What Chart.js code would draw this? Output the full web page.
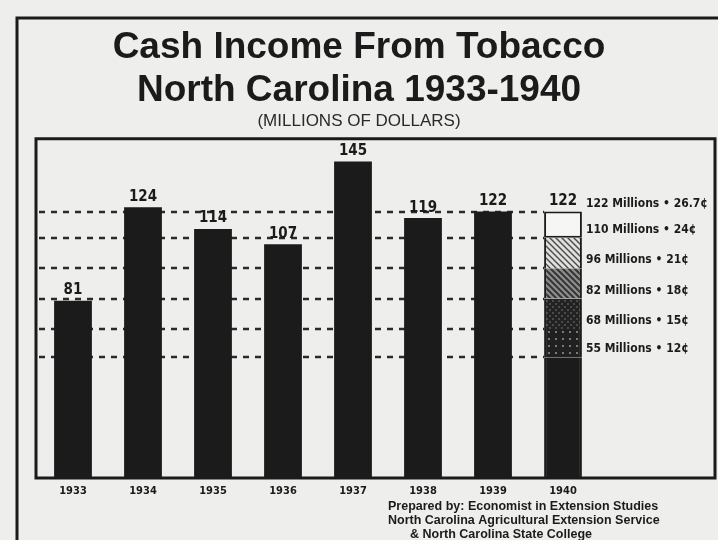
<!DOCTYPE html>
<html>
<head>
<meta charset="utf-8">
<script src="https://cdn.jsdelivr.net/npm/chart.js@4.4.1/dist/chart.umd.min.js"></script>
<style>
  html, body { margin: 0; padding: 0; background: #eeeeec; }
  #wrap { width: 718px; height: 540px; }
</style>
</head>
<body>
<div id="wrap"><canvas id="tobaccoChart" width="718" height="540"></canvas></div>
<script>
// Data (millions of dollars)
const years = ['1933', '1934', '1935', '1936', '1937', '1938', '1939', '1940'];
const cashIncome = [81, 124, 114, 107, 145, 119, 122, null];
const total1940 = 122;
// 1940 column split by price levels (cumulative millions) and the price per pound
const levels1940 = [55, 68, 82, 96, 110, 122];
const prices1940 = ['12¢', '15¢', '18¢', '21¢', '24¢', '26.7¢'];

const titleLines = ['Cash Income From Tobacco', 'North Carolina 1933-1940'];
const subtitleText = '(MILLIONS OF DOLLARS)';
const footerLines = [
    'Prepared by: Economist in Extension Studies',
    'North Carolina Agricultural Extension Service',
    '& North Carolina State College'
];

const ink = '#1b1b1b';
const paper = '#eeeeec';
const narrow = '"Liberation Sans Narrow", "DejaVu Sans Condensed", sans-serif';
const sans = '"Liberation Sans", Arial, sans-serif';

// Small fill patterns for the 1940 column
function makePattern(kind) {
    const c = document.createElement('canvas');
    const g = c.getContext('2d');
    const s = kind === 'dots' ? 7 : 6;
    c.width = s; c.height = s;
    if (kind === 'dots') {
        g.fillStyle = '#202020'; g.fillRect(0, 0, s, s);
        g.fillStyle = '#7a7a7a'; g.fillRect(2, 2, 2, 2);
    } else if (kind === 'cross') {
        g.fillStyle = '#222'; g.fillRect(0, 0, s, s);
        g.fillStyle = '#4a4a4a';
        g.fillRect(0, 0, 2, 2); g.fillRect(3, 3, 2, 2);
    } else if (kind === 'hatchDark') {
        g.fillStyle = '#8e8e8e'; g.fillRect(0, 0, s, s);
        g.strokeStyle = '#353535'; g.lineWidth = 2;
        g.beginPath();
        g.moveTo(-1, -1); g.lineTo(s + 1, s + 1);
        g.moveTo(-1, s - 1); g.lineTo(1, s + 1);
        g.moveTo(s - 1, -1); g.lineTo(s + 1, 1);
        g.stroke();
    } else {
        g.fillStyle = '#e0e0de'; g.fillRect(0, 0, s, s);
        g.strokeStyle = '#4a4a4a'; g.lineWidth = 1.4;
        g.beginPath();
        g.moveTo(-1, -1); g.lineTo(s + 1, s + 1);
        g.moveTo(-1, s - 1); g.lineTo(1, s + 1);
        g.moveTo(s - 1, -1); g.lineTo(s + 1, 1);
        g.stroke();
    }
    return g.createPattern(c, 'repeat');
}

const segmentFills = [ink, makePattern('dots'), makePattern('cross'), makePattern('hatchDark'), makePattern('hatchLight'), '#f6f6f4'];

const datasets = [{
    label: 'Cash income',
    data: cashIncome,
    backgroundColor: ink,
    borderWidth: 0,
    stack: 'income'
}];
levels1940.forEach((level, i) => {
    const prev = i === 0 ? 0 : levels1940[i - 1];
    const data = years.map((y, j) => j === years.length - 1 ? level - prev : null);
    const isTop = i === levels1940.length - 1;
    datasets.push({
        label: levels1940[i] + ' Millions',
        data: data,
        backgroundColor: segmentFills[i],
        borderColor: ink,
        borderWidth: isTop ? 2 : { left: 2, right: 2, top: 0, bottom: 0 },
        borderSkipped: false,
        stack: 'income'
    });
});

// Paper, frames, guide lines and all the loose text
const framePlugin = {
    id: 'frames',
    beforeDraw(chart) {
        const { ctx, chartArea, width, height } = chart;
        ctx.save();
        ctx.fillStyle = paper;
        ctx.fillRect(0, 0, width, height);
        ctx.strokeStyle = ink;
        ctx.lineWidth = 3;
        // outer clipping frame
        ctx.beginPath();
        ctx.moveTo(17, height);
        ctx.lineTo(17, 18);
        ctx.lineTo(width, 18);
        ctx.stroke();
        // chart box
        ctx.beginPath();
        ctx.moveTo(chartArea.left - 2, chartArea.bottom + 1);
        ctx.lineTo(chartArea.left - 2, chartArea.top - 1);
        ctx.lineTo(width - 3, chartArea.top - 1);
        ctx.lineTo(width - 3, chartArea.bottom + 1);
        ctx.closePath();
        ctx.stroke();
        ctx.restore();
    },
    beforeDatasetsDraw(chart) {
        // dashed guide lines at the 1940 price levels
        const { ctx, chartArea } = chart;
        const yScale = chart.scales.y;
        const lastBar = chart.getDatasetMeta(1).data[years.length - 1];
        const stopX = lastBar.x - lastBar.width / 2;
        ctx.save();
        ctx.strokeStyle = '#2a2a2a';
        ctx.lineWidth = 2.5;
        ctx.setLineDash([6, 6]);
        levels1940.forEach(level => {
            const y = Math.round(yScale.getPixelForValue(level));
            ctx.beginPath();
            ctx.moveTo(chartArea.left + 1, y);
            ctx.lineTo(stopX, y);
            ctx.stroke();
        });
        ctx.restore();
    },
    afterDraw(chart) {
        const { ctx } = chart;
        const yScale = chart.scales.y;
        ctx.save();
        ctx.fillStyle = ink;

        // value labels above the bars
        ctx.font = 'bold 15px ' + narrow;
        ctx.textAlign = 'center';
        ctx.textBaseline = 'bottom';
        chart.getDatasetMeta(0).data.forEach((bar, i) => {
            if (cashIncome[i] == null) return;
            ctx.fillText(String(cashIncome[i]), bar.x, bar.y - 3);
        });
        const topBar = chart.getDatasetMeta(levels1940.length).data[years.length - 1];
        ctx.fillText(String(total1940), topBar.x, topBar.y - 3);

        // price level notes beside the 1940 column
        ctx.font = 'bold 12px ' + narrow;
        ctx.textAlign = 'left';
        ctx.textBaseline = 'middle';
        const noteX = topBar.x + topBar.width / 2 + 4;
        levels1940.forEach((level, i) => {
            const y = yScale.getPixelForValue(level) - 8;
            ctx.fillText(level + ' Millions • ' + prices1940[i], noteX, y, 122);
        });

        // credit line
        ctx.font = 'bold 12.5px ' + sans;
        ctx.textBaseline = 'middle';
        ctx.fillText(footerLines[0], 388, 507);
        ctx.fillText(footerLines[1], 388, 521);
        ctx.fillText(footerLines[2], 410, 535);
        ctx.restore();
    }
};

new Chart(document.getElementById('tobaccoChart'), {
    type: 'bar',
    data: { labels: years, datasets: datasets },
    options: {
        responsive: false,
        animation: false,
        devicePixelRatio: 1,
        layout: { padding: 0 },
        datasets: {
            bar: { barPercentage: 0.54, categoryPercentage: 1 }
        },
        plugins: {
            legend: { display: false },
            tooltip: { enabled: false },
            title: {
                display: true,
                text: titleLines,
                color: ink,
                font: { family: sans, size: 37, weight: 'bold', lineHeight: 1.15 },
                padding: { top: 27, bottom: 0 }
            },
            subtitle: {
                display: true,
                text: subtitleText,
                color: '#2a2a2a',
                font: { family: sans, size: 17, weight: 'normal', lineHeight: 1.1 },
                padding: { top: 0, bottom: 9 }
            }
        },
        scales: {
            x: {
                stacked: true,
                grid: { display: false, drawTicks: false },
                border: { display: false },
                ticks: {
                    color: ink,
                    padding: 8,
                    font: { family: narrow, size: 11, weight: 'bold' }
                },
                afterFit: s => { s.height = 63; }
            },
            y: {
                stacked: true,
                min: 0,
                max: 155,
                grid: { display: false },
                border: { display: false },
                ticks: { display: false },
                afterFit: s => { s.width = 38; }
            },
            notes: {
                position: 'right',
                grid: { display: false },
                border: { display: false },
                ticks: { display: false },
                afterFit: s => { s.width = 120; }
            }
        }
    },
    plugins: [framePlugin]
});
</script>
</body>
</html>
